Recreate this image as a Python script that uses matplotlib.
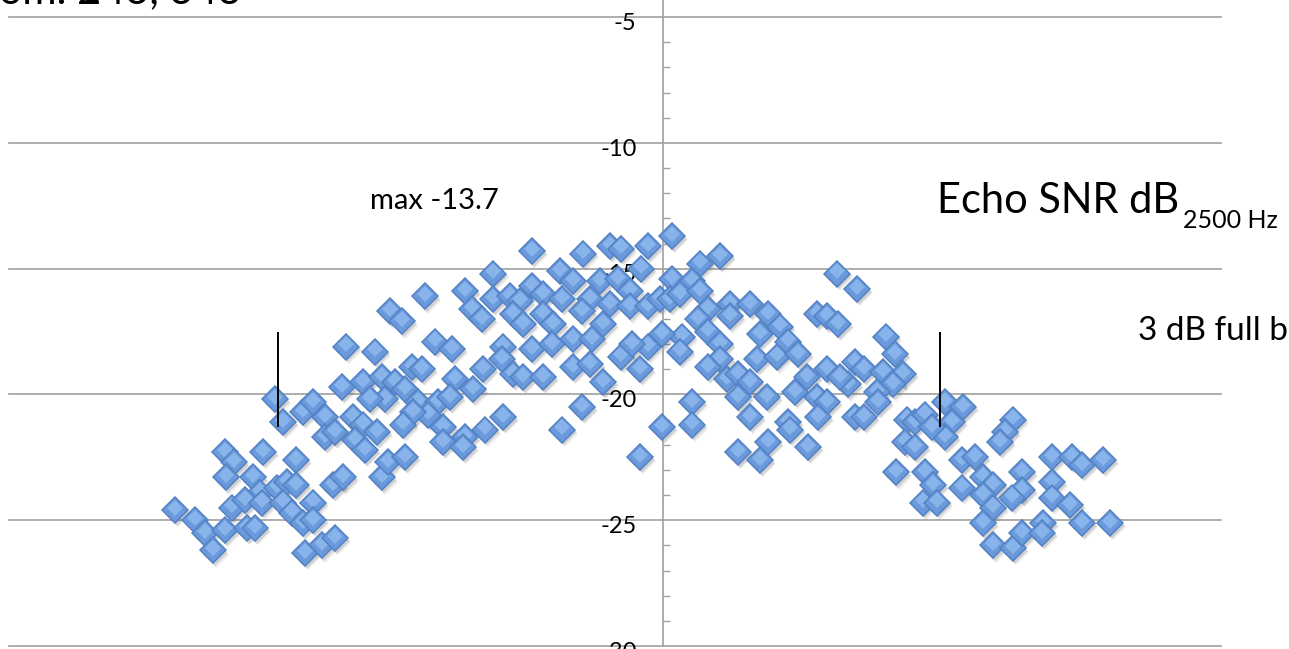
"""Echo SNR scatter across azimuth, with the 3 dB beam edges marked."""

import matplotlib

matplotlib.use("Agg")
import matplotlib.pyplot as plt
from matplotlib.ticker import FixedLocator, FixedFormatter, MultipleLocator
from matplotlib.transforms import ScaledTranslation, offset_copy

plt.rcParams["font.family"] = ["Lato", "DejaVu Sans"]

# azimuth offset from beam centre (arbitrary units) and echo SNR in dB
azimuth = [
    -31.7, -28.8, -32.1, -30.0, -28.1, -27.8, -29.3, -38.8, -38.0, -36.0,
    -35.0, -33.8, -33.8, -32.8, -31.0, -30.0, -30.8, -29.8, -28.6, -43.8,
    -42.9, -40.0, -36.7, -43.7, -41.0, -40.3, -38.6, -37.6, -36.7, -33.0,
    -32.0, -28.1, -27.5, -48.8, -46.8, -45.8, -45.0, -43.8, -43.1, -41.8,
    -40.1, -41.6, -40.8, -38.0, -37.1, -36.0, -35.0, -35.0, -35.8, -34.1,
    -32.8, -27.3,
    -13.1, -8.0, -5.3, -4.2, -17.0, -10.3, -9.0, -13.1, -12.0, -17.0,
    -19.8, -23.8, -26.1, -19.1, -18.1, -15.3, -14.3, -15.0, -14.0, -12.0,
    -11.0, -10.1, -7.3, -8.1, -5.3, -6.0, -6.3, -4.5, -22.8, -21.1,
    -16.0, -16.1, -13.1, -11.1, -9.0, -7.1, -4.2, -9.0, -7.3, -6.0,
    -25.1, -24.1, -26.8, -25.8, -20.8, -18.0, -19.0, -15.0, -14.0, -12.0,
    -24.5, -22.5, -21.3, -23.5, -25.0, -26.0, -22.0, -19.8, -22.0, -17.8,
    -16.0, -8.1, -10.1, -25.8, -20.0,
    0.9, -1.5, 5.7, 3.7, -2.2, 0.9, 2.9, -3.3, -3.3, -1.5,
    -0.3, 0.7, 1.7, 3.7, 4.5, 6.7, 6.7, 8.7, 10.5, 11.7,
    9.7, 3.5, 4.5, 5.7, 1.9, 1.7, -0.1, -1.5, -3.1, -2.3,
    5.7, 4.5, 9.4, 11.4, 12.5, 13.5, 6.4, 7.5, 8.7, 7.5,
    10.4, 13.2, 14.4, 16.4, 15.4, 16.4, 15.5, 8.7, 12.5, 12.7,
    10.5, 9.7, 7.5, 14.5, 2.9, 2.9, -0.1, -2.3, 15.4, 16.4,
    17.5, 17.4, 19.4, 19.2, 20.1, 18.5, 17.7, 19.2, 20.1,
    22.3, 23.2, 22.0, 24.0, 23.0, 21.4, 21.5, 28.2, 30.0, 28.9,
    28.2, 24.4, 25.2, 26.2, 26.9, 24.2, 25.2, 35.0, 34.2, 33.7,
    23.3, 26.2, 27.0, 26.0, 27.4, 29.9, 31.2, 29.9, 32.0, 33.0,
    32.0, 33.0, 32.0, 33.0, 35.0, 35.9, 38.0, 37.9, 35.9, 35.9,
    34.9, 38.9, 38.9, 38.9, 40.9, 41.9, 40.7, 41.9, 44.0, 44.7,
]
snr_db = [
    -18.1, -18.3, -19.7, -19.5, -19.3, -20.2, -20.2, -20.2, -21.1, -20.7,
    -20.3, -20.9, -21.7, -21.5, -20.9, -21.2, -21.8, -22.2, -21.5, -22.3,
    -22.7, -22.3, -22.6, -23.3, -23.3, -23.9, -23.7, -23.5, -23.6, -23.6,
    -23.3, -23.3, -22.7, -24.6, -25.0, -25.5, -26.2, -25.4, -24.5, -24.2,
    -24.3, -25.3, -25.3, -24.3, -24.7, -25.1, -24.3, -25.0, -26.3, -26.0,
    -25.7, -16.7,
    -14.3, -14.4, -14.1, -14.2, -15.2, -15.1, -15.5, -15.7, -16.0, -16.2,
    -15.9, -16.1, -17.1, -16.6, -17.0, -16.1, -16.3, -16.8, -17.2, -16.8,
    -17.2, -16.2, -16.2, -16.7, -16.4, -17.2, -15.5, -15.4, -17.9, -18.2,
    -18.1, -18.6, -18.2, -18.0, -17.8, -17.8, -18.5, -18.9, -18.8, -19.5,
    -18.9, -19.0, -19.5, -19.8, -19.4, -19.0, -19.8, -19.2, -19.3, -19.3,
    -20.3, -20.3, -20.1, -20.8, -20.7, -21.2, -21.3, -21.7, -21.9, -21.4,
    -20.9, -20.5, -21.4, -22.5, -22.1,
    -13.7, -14.1, -14.5, -14.8, -15.0, -15.4, -15.5, -15.9, -16.5, -16.5,
    -16.2, -16.2, -16.0, -15.9, -16.6, -16.4, -16.9, -16.4, -16.8, -17.3,
    -17.6, -17.0, -17.5, -18.0, -17.7, -18.3, -17.6, -18.1, -18.0, -19.0,
    -18.6, -18.9, -18.6, -18.5, -17.9, -18.4, -19.4, -19.2, -19.5, -20.1,
    -20.1, -19.9, -19.3, -19.0, -20.1, -20.3, -20.9, -20.9, -21.1, -21.4,
    -21.9, -22.6, -22.3, -22.1, -20.3, -21.2, -21.3, -22.5, -16.8, -16.9,
    -17.2, -15.2, -15.8, -18.7, -19.0, -19.6, -19.3, -20.9, -20.9,
    -17.7, -18.4, -19.1, -19.2, -19.6, -19.9, -20.3, -20.3, -20.5, -21.1,
    -21.7, -21.0, -21.1, -20.8, -21.3, -21.9, -22.1, -21.0, -21.5, -21.9,
    -23.1, -23.1, -23.6, -24.3, -24.3, -22.6, -22.5, -23.7, -23.3, -23.6,
    -24.0, -24.5, -25.1, -26.0, -26.1, -25.5, -25.1, -25.5, -23.1, -23.8,
    -24.1, -23.5, -24.1, -22.5, -22.5, -22.8, -24.4, -25.1, -22.6, -25.1,
]

# 3 dB full beamwidth edges
beam_edges = [-38.5, 27.7]
beam_edge_span = (-21.3, -17.5)

y_ticks = [-30, -25, -20, -15, -10, -5]
y_labels = ["-30", "-25", "-20", "-15", "-10", "-5"]

GRID = "#a0a0a0"


def main():
    fig = plt.figure(figsize=(12.89, 6.49), dpi=100)
    ax = fig.add_axes([9 / 1289, 3 / 649, 1212 / 1289, 646 / 649])
    ax.set_xlim(-65.4, 55.8)
    ax.set_ylim(-30, -4.32)

    for spine in ("top", "right", "bottom"):
        ax.spines[spine].set_visible(False)
    ax.spines["left"].set_position(("data", 0))
    ax.spines["left"].set_color(GRID)
    ax.spines["left"].set_linewidth(1.2)
    ax.set_xticks([])

    ax.yaxis.set_major_locator(FixedLocator(y_ticks))
    ax.yaxis.set_major_formatter(FixedFormatter(y_labels))
    ax.yaxis.set_minor_locator(MultipleLocator(1))
    ax.tick_params(axis="y", which="both", direction="in", color=GRID,
                   width=1.0, labelsize=17, pad=19)
    ax.tick_params(axis="y", which="major", length=0)
    ax.tick_params(axis="y", which="minor", length=5)
    shift = ScaledTranslation(0, -3 / 72, fig.dpi_scale_trans)
    for label in ax.get_yticklabels():
        label.set_transform(label.get_transform() + shift)

    for value in y_ticks:
        ax.axhline(value, color=GRID, linewidth=1.2, zorder=1, clip_on=False)

    # soft drop shadow under every marker
    for dx, dy, alpha in ((1.5, -2.0, 0.18), (2.5, -3.0, 0.10)):
        shadow = offset_copy(ax.transData, fig=fig, x=dx, y=dy, units="points")
        ax.plot(azimuth, snr_db, "D", transform=shadow, markersize=13,
                color="#555555", alpha=alpha, markeredgewidth=0, zorder=2)

    # each diamond: darker base plus a lighter upper highlight, drawn in order
    glint = offset_copy(ax.transData, fig=fig, x=0, y=1.6, units="points")
    for x, y in zip(azimuth, snr_db):
        ax.plot(x, y, "D", markersize=12.8, markerfacecolor="#6a99dc",
                markeredgecolor="#5282c4", markeredgewidth=1.1, zorder=3)
        ax.plot(x, y, "D", markersize=8.6, markerfacecolor="#8fb8ee",
                markeredgewidth=0, alpha=0.85, transform=glint, zorder=3)

    for edge in beam_edges:
        ax.vlines(edge, *beam_edge_span, color="black", linewidth=1.4,
                  zorder=5)

    ax.text(-29.3, -12.63, "max -13.7", fontsize=21, ha="left",
            va="baseline")
    ax.text(27.4, -12.79, "Echo SNR dB", fontsize=30, ha="left",
            va="baseline")
    ax.text(52.0, -13.39, "2500 Hz", fontsize=18, ha="left", va="baseline",
            clip_on=False)
    ax.text(47.5, -17.85, "3 dB full b", fontsize=24, ha="left",
            va="baseline", clip_on=False)
    fig.text(242 / 1289, 1 - 3 / 649, "from. 243, 343", fontsize=30,
             ha="right", va="baseline")

    fig.savefig("out.png", dpi=100)
    plt.close(fig)


if __name__ == "__main__":
    main()
